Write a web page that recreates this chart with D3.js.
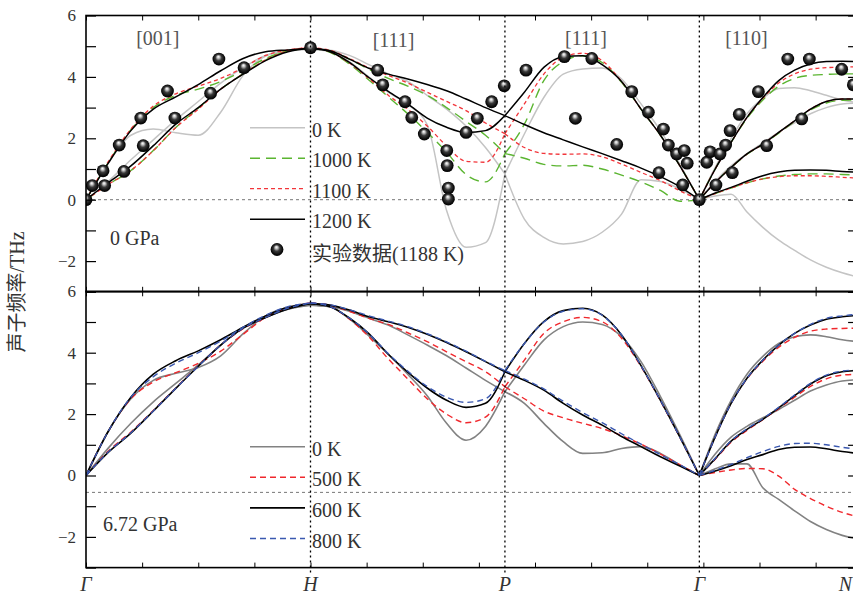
<!DOCTYPE html>
<html>
<head>
<meta charset="utf-8">
<script src="https://cdn.jsdelivr.net/npm/d3@7"></script>
<style>
  body { margin: 0; background: #fff; }
  text { font-family: "Liberation Serif", "Noto Sans CJK SC", serif; fill: #333; }
</style>
</head>
<body>
<script>
// sample points along every path segment (fraction of the segment)
var frac = d3.range(11).map(function(i) { return i / 10; });

// high symmetry path of bcc lattice
var qH = 1, qP = 1 + Math.sqrt(3) / 2, qG2 = 1 + Math.sqrt(3), qN = qG2 + Math.SQRT2 / 2;
var segRange = {GH: [0, qH], HP: [qH, qP], PG: [qP, qG2], GN: [qG2, qN]};
var pointNames = ["Γ", "H", "P", "Γ", "N"];
var pointQ = [0, qH, qP, qG2, qN];

// ---- 0 GPa panel ----
var top0K = {
  GH: [[0, 1.2, 2.1, 2.3, 2.18, 2.1, 2.85, 4.05, 4.68, 4.85, 4.9],
       [0, 0.6, 1.3, 1.95, 2.6, 3.2, 3.8, 4.3, 4.7, 4.85, 4.9]],
  HP: [[4.9, 4.87, 4.7, 4.4, 4.1, 3.85, 3.4, 2.95, 2.4, 1.7, 0.84],
       [4.9, 4.83, 4.5, 4.0, 3.5, 3.1, 2.45, -0.35, -1.55, -1.4, 0.84]],
  PG: [[0.84, 2.14, 3.33, 4.09, 4.26, 4.29, 3.93, 3.12, 2.25, 1.15, 0],
       [0.84, -0.63, -1.23, -1.44, -1.36, -1.06, -0.47, 0.65, 0.59, 0.35, 0]],
  GN: [[0, 1.05, 2.0, 2.8, 3.3, 3.62, 3.65, 3.55, 3.4, 3.25, 3.15],
       [0, 0.6, 1.1, 1.5, 1.85, 2.2, 2.5, 2.8, 3.0, 3.12, 3.15],
       [0, 0.12, 0.18, -0.4, -0.9, -1.32, -1.65, -1.96, -2.2, -2.38, -2.52]]
};
var top1000K = {
  GH: [[0, 1.22, 2.28, 3.0, 3.4, 3.6, 3.85, 4.2, 4.6, 4.85, 4.93],
       [0, 0.5, 0.95, 1.6, 2.35, 2.98, 3.6, 4.1, 4.55, 4.85, 4.93]],
  HP: [[4.93, 4.85, 4.58, 4.25, 3.95, 3.7, 3.4, 3.0, 2.55, 2.1, 1.5],
       [4.93, 4.8, 4.42, 3.9, 3.35, 2.8, 2.2, 1.55, 0.82, 0.58, 1.5]],
  PG: [[1.5, 2.46, 3.88, 4.5, 4.69, 4.47, 3.82, 2.95, 2.1, 1.1, 0],
       [1.5, 1.35, 1.15, 1.1, 1.12, 1.0, 0.8, 0.58, 0.3, -0.05, 0]],
  GN: [[0, 1.0, 1.87, 2.65, 3.25, 3.7, 3.95, 4.05, 4.08, 4.1, 4.1],
       [0, 0.56, 1.05, 1.48, 1.8, 2.17, 2.55, 2.92, 3.15, 3.24, 3.25],
       [0, 0.2, 0.38, 0.55, 0.68, 0.77, 0.82, 0.84, 0.84, 0.82, 0.8]]
};
var top1100K = {
  GH: [[0, 1.25, 2.3, 3.05, 3.45, 3.7, 3.95, 4.3, 4.7, 4.88, 4.95],
       [0, 0.5, 0.95, 1.6, 2.35, 2.95, 3.6, 4.1, 4.55, 4.85, 4.95]],
  HP: [[4.95, 4.87, 4.6, 4.3, 4.05, 3.8, 3.5, 3.2, 2.9, 2.5, 2.15],
       [4.95, 4.82, 4.45, 3.95, 3.4, 2.95, 2.4, 1.75, 1.25, 1.22, 2.15]],
  PG: [[2.15, 3.12, 4.09, 4.64, 4.77, 4.53, 3.85, 2.95, 2.1, 1.1, 0],
       [2.15, 1.7, 1.51, 1.48, 1.49, 1.4, 1.16, 0.89, 0.62, 0.29, 0]],
  GN: [[0, 1.0, 1.87, 2.68, 3.3, 3.8, 4.1, 4.25, 4.3, 4.32, 4.33],
       [0, 0.56, 1.05, 1.49, 1.81, 2.19, 2.57, 2.95, 3.2, 3.28, 3.28],
       [0, 0.2, 0.38, 0.55, 0.68, 0.75, 0.78, 0.78, 0.76, 0.73, 0.7]]
};
var top1200K = {
  GH: [[0, 1.2, 2.25, 2.95, 3.35, 3.75, 4.2, 4.6, 4.82, 4.88, 4.93],
       [0, 0.56, 1.1, 1.76, 2.46, 3.0, 3.6, 4.09, 4.53, 4.82, 4.93]],
  HP: [[4.93, 4.85, 4.58, 4.28, 4.09, 3.93, 3.75, 3.55, 3.28, 3.0, 2.74],
       [4.93, 4.82, 4.47, 3.98, 3.53, 3.12, 2.66, 2.36, 2.19, 2.25, 2.74]],
  PG: [[2.74, 3.5, 4.31, 4.66, 4.69, 4.4, 3.85, 2.95, 2.1, 1.1, 0],
       [2.74, 2.45, 2.18, 1.95, 1.72, 1.5, 1.27, 1.03, 0.75, 0.42, 0]],
  GN: [[0, 1.0, 1.87, 2.68, 3.33, 3.88, 4.22, 4.42, 4.5, 4.51, 4.5],
       [0, 0.56, 1.05, 1.49, 1.81, 2.19, 2.57, 2.95, 3.2, 3.28, 3.28],
       [0, 0.22, 0.4, 0.6, 0.78, 0.9, 0.96, 0.97, 0.96, 0.92, 0.9]]
};

// neutron data at 1188 K (wave vector along path, THz)
var expQ = [0, 0.028, 0.076, 0.083, 0.148, 0.169, 0.244, 0.255, 0.363, 0.396, 0.555, 0.592, 0.704, 1.0,
  1.299, 1.322, 1.421, 1.451, 1.507, 1.607, 1.609, 1.614, 1.614, 1.693, 1.743, 1.807, 1.863,
  1.96, 2.131, 2.18, 2.253, 2.364, 2.431, 2.505, 2.552, 2.572, 2.594, 2.631, 2.658, 2.665, 2.678, 2.732,
  2.765, 2.78, 2.806, 2.824, 2.849, 2.869, 2.879, 2.91, 2.995, 3.032, 3.126, 3.188, 3.222, 3.366, 3.418];
var expF = [0, 0.46, 0.94, 0.46, 1.78, 0.92, 2.66, 1.76, 3.54, 2.66, 3.47, 4.58, 4.3, 4.95,
  4.22, 3.74, 3.19, 2.68, 2.14, 1.6, 1.11, 0.38, 0.02, 2.19, 2.65, 3.19, 3.71,
  4.22, 4.66, 2.65, 4.6, 1.8, 3.52, 2.85, 0.88, 2.3, 1.78, 1.49, 0.48, 1.6, 1.19, 0,
  1.22, 1.56, 0.48, 1.49, 1.78, 2.25, 0.88, 2.78, 3.52, 1.76, 4.58, 2.63, 4.58, 4.25, 3.74];

// ---- 6.72 GPa panel ----
var bot0K = {
  GH: [[0, 1.45, 2.5, 3.1, 3.33, 3.52, 3.9, 4.62, 5.2, 5.47, 5.55],
       [0, 0.9, 1.7, 2.4, 3.0, 3.6, 4.25, 4.8, 5.15, 5.42, 5.55]],
  HP: [[5.55, 5.5, 5.35, 5.12, 4.9, 4.58, 4.25, 3.9, 3.5, 3.1, 2.73],
       [5.55, 5.5, 5.1, 4.55, 3.95, 3.3, 2.6, 1.7, 1.15, 1.6, 2.73]],
  PG: [[2.73, 3.6, 4.41, 4.85, 5.0, 4.92, 4.52, 3.71, 2.57, 1.32, 0],
       [2.73, 2.35, 1.7, 1.1, 0.72, 0.74, 0.88, 0.94, 0.72, 0.34, 0]],
  GN: [[0, 1.35, 2.45, 3.3, 3.88, 4.3, 4.52, 4.58, 4.52, 4.42, 4.36],
       [0, 0.7, 1.25, 1.6, 1.88, 2.15, 2.45, 2.75, 2.95, 3.08, 3.12],
       [0, 0.22, 0.38, 0.38, -0.4, -0.78, -1.15, -1.5, -1.76, -1.95, -2.08]]
};
var bot500K = {
  GH: [[0, 1.45, 2.5, 3.05, 3.35, 3.65, 4.05, 4.6, 5.15, 5.47, 5.62],
       [0, 0.8, 1.42, 2.12, 2.85, 3.57, 4.25, 4.78, 5.15, 5.45, 5.62]],
  HP: [[5.62, 5.55, 5.35, 5.12, 4.92, 4.65, 4.36, 4.03, 3.71, 3.38, 2.89],
       [5.62, 5.5, 5.1, 4.52, 3.8, 3.15, 2.5, 2.0, 1.72, 1.9, 2.89]],
  PG: [[2.89, 3.76, 4.63, 5.01, 5.15, 5.01, 4.47, 3.55, 2.43, 1.24, 0],
       [2.89, 2.5, 2.1, 1.88, 1.7, 1.53, 1.3, 1.02, 0.7, 0.35, 0]],
  GN: [[0, 1.26, 2.35, 3.15, 3.72, 4.18, 4.5, 4.7, 4.77, 4.79, 4.8],
       [0, 0.53, 1.08, 1.47, 1.82, 2.18, 2.55, 2.9, 3.15, 3.27, 3.3],
       [0, 0.1, 0.18, 0.23, 0.22, -0.02, -0.45, -0.75, -1.0, -1.2, -1.35]]
};
var bot600K = {
  GH: [[0, 1.45, 2.55, 3.3, 3.74, 4.06, 4.42, 4.83, 5.2, 5.48, 5.6],
       [0, 0.76, 1.38, 2.1, 2.84, 3.56, 4.25, 4.8, 5.15, 5.42, 5.6]],
  HP: [[5.6, 5.55, 5.39, 5.17, 5.01, 4.83, 4.6, 4.33, 4.03, 3.71, 3.38],
       [5.6, 5.5, 5.13, 4.62, 3.95, 3.37, 2.85, 2.45, 2.22, 2.35, 3.38]],
  PG: [[3.38, 4.3, 5.01, 5.37, 5.45, 5.23, 4.58, 3.58, 2.45, 1.25, 0],
       [3.38, 3.1, 2.78, 2.35, 1.97, 1.64, 1.27, 0.94, 0.61, 0.31, 0]],
  GN: [[0, 1.26, 2.35, 3.17, 3.76, 4.25, 4.63, 4.9, 5.09, 5.17, 5.22],
       [0, 0.55, 1.12, 1.5, 1.83, 2.2, 2.6, 2.98, 3.25, 3.38, 3.42],
       [0, 0.15, 0.32, 0.52, 0.68, 0.85, 0.92, 0.93, 0.87, 0.78, 0.72]]
};
var bot800K = {
  GH: [[0, 1.45, 2.55, 3.22, 3.66, 4.0, 4.38, 4.83, 5.22, 5.5, 5.62],
       [0, 0.77, 1.39, 2.1, 2.84, 3.56, 4.25, 4.8, 5.15, 5.45, 5.62]],
  HP: [[5.62, 5.56, 5.4, 5.2, 5.03, 4.85, 4.62, 4.35, 4.05, 3.72, 3.42],
       [5.62, 5.5, 5.13, 4.62, 3.97, 3.4, 2.9, 2.55, 2.38, 2.5, 3.42]],
  PG: [[3.42, 4.3, 5.0, 5.35, 5.43, 5.22, 4.58, 3.58, 2.45, 1.25, 0],
       [3.42, 3.14, 2.82, 2.42, 2.05, 1.72, 1.36, 1.02, 0.68, 0.35, 0]],
  GN: [[0, 1.26, 2.35, 3.17, 3.76, 4.25, 4.63, 4.92, 5.12, 5.2, 5.25],
       [0, 0.56, 1.13, 1.52, 1.85, 2.22, 2.62, 3.0, 3.27, 3.4, 3.44],
       [0, 0.17, 0.36, 0.58, 0.78, 0.95, 1.04, 1.05, 1.0, 0.92, 0.85]]
};

var yTicks = [-3, -2, -1, 0, 1, 2, 3, 4, 5, 6];
var dirLabels = ["[001]", "[111]", "[111]", "[110]"];
var dirQ = [0.32, 1.37, 2.227, 2.942];

var width = 853, height = 594;
var left = 86, pxPerQ = 224.5;

var x = d3.scaleLinear().domain([0, qN]).range([left, left + qN * pxPerQ]);
var yTop = d3.scaleLinear().domain([-3, 6]).range([291.8, 15.5]);
var yBot = d3.scaleLinear().domain([-3, 6]).range([567.6, 291.3]);

var svg = d3.select("body").append("svg")
    .attr("width", width)
    .attr("height", height);

var defs = svg.append("defs");
var grad = defs.append("radialGradient").attr("id", "ball")
    .attr("cx", "50%").attr("cy", "50%").attr("r", "55%")
    .attr("fx", "45%").attr("fy", "30%");
grad.append("stop").attr("offset", "0%").attr("stop-color", "#ffffff");
grad.append("stop").attr("offset", "18%").attr("stop-color", "#c8c8c8");
grad.append("stop").attr("offset", "45%").attr("stop-color", "#3a3a3a");
grad.append("stop").attr("offset", "80%").attr("stop-color", "#0a0a0a");
grad.append("stop").attr("offset", "100%").attr("stop-color", "#000");

[["clipTop", yTop], ["clipBot", yBot]].forEach(function(c) {
  defs.append("clipPath").attr("id", c[0]).append("rect")
      .attr("x", x(0)).attr("y", c[1](6))
      .attr("width", x(qN) - x(0)).attr("height", c[1](-3) - c[1](6));
});

function drawSeries(g, y, series, style) {
  var line = d3.line()
      .x(function(d) { return x(d[0]); })
      .y(function(d) { return y(d[1]); })
      .curve(d3.curveMonotoneX);
  Object.keys(series).forEach(function(seg) {
    var r = segRange[seg];
    series[seg].forEach(function(vals) {
      var pts = vals.map(function(v, i) { return [r[0] + frac[i] * (r[1] - r[0]), v]; });
      g.append("path")
          .attr("d", line(pts))
          .attr("fill", "none")
          .attr("stroke", style.color)
          .attr("stroke-width", style.w)
          .attr("stroke-dasharray", style.dash);
    });
  });
}

function drawFrame(y) {
  var g = svg.append("g");
  // frequency ticks, inward on both sides
  g.append("g").attr("transform", "translate(" + x(0) + ",0)")
      .call(d3.axisLeft(y).tickValues(yTicks).tickSizeInner(-10).tickSizeOuter(0).tickPadding(10)
        .tickFormat(function(d) { return d % 2 === 0 && d > -3 ? d3.format("d")(d) : ""; }))
      .call(function(a) {
        a.select(".domain").remove();
        a.selectAll("line").attr("stroke", "#000").attr("stroke-width", 1.2);
        a.selectAll("text").attr("font-size", 17).attr("fill", "#333")
          .style("font-family", "'Liberation Serif', serif");
      });
  g.append("g").attr("transform", "translate(" + x(qN) + ",0)")
      .call(d3.axisLeft(y).tickValues(yTicks).tickSize(10).tickFormat(""))
      .call(function(a) { a.select(".domain").remove(); a.selectAll("line").attr("stroke", "#000").attr("stroke-width", 1.2); });
  var qt = d3.range(0, qN, 0.25);
  g.append("g").attr("transform", "translate(0," + y(6) + ")")
      .call(d3.axisBottom(x).tickValues(qt).tickSize(5).tickFormat(""))
      .call(function(a) { a.select(".domain").remove(); a.selectAll("line").attr("stroke", "#000"); });
  g.append("g").attr("transform", "translate(0," + y(-3) + ")")
      .call(d3.axisTop(x).tickValues(qt).tickSize(5).tickFormat(""))
      .call(function(a) { a.select(".domain").remove(); a.selectAll("line").attr("stroke", "#000"); });
  g.append("rect")
      .attr("x", x(0)).attr("y", y(6))
      .attr("width", x(qN) - x(0)).attr("height", y(-3) - y(6))
      .attr("fill", "none").attr("stroke", "#000").attr("stroke-width", 1.6);
}

// ---- top panel ----
var gTop = svg.append("g").attr("clip-path", "url(#clipTop)");
gTop.append("line")
    .attr("x1", x(0)).attr("x2", x(qN)).attr("y1", yTop(0)).attr("y2", yTop(0))
    .attr("stroke", "#777").attr("stroke-width", 1).attr("stroke-dasharray", "3,3");

var topStyles = [
  {data: top0K, color: "#c4c4c4", w: 1.5, dash: null, name: "0 K"},
  {data: top1000K, color: "#5bb531", w: 1.4, dash: "10,6", name: "1000 K"},
  {data: top1100K, color: "#f2353a", w: 1.3, dash: "4,3", name: "1100 K"},
  {data: top1200K, color: "#000", w: 1.5, dash: null, name: "1200 K"}
];
topStyles.forEach(function(s) { drawSeries(gTop, yTop, s.data, s); });

// ---- bottom panel ----
var gBot = svg.append("g").attr("clip-path", "url(#clipBot)");
gBot.append("line")
    .attr("x1", x(0)).attr("x2", x(qN)).attr("y1", yBot(-0.55)).attr("y2", yBot(-0.55))
    .attr("stroke", "#777").attr("stroke-width", 1).attr("stroke-dasharray", "3,3");

var botStyles = [
  {data: bot0K, color: "#828282", w: 1.6, dash: null, name: "0 K"},
  {data: bot500K, color: "#f0282d", w: 1.4, dash: "6,4", name: "500 K"},
  {data: bot600K, color: "#000", w: 1.6, dash: null, name: "600 K"},
  {data: bot800K, color: "#3a58b0", w: 1.4, dash: "6,4", name: "800 K"}
];
botStyles.forEach(function(s) { drawSeries(gBot, yBot, s.data, s); });

// dotted verticals at H, P, Gamma
svg.selectAll(".vline").data(pointQ.slice(1, 4)).enter().append("line")
    .attr("x1", function(d) { return x(d); }).attr("x2", function(d) { return x(d); })
    .attr("y1", yTop(6)).attr("y2", yBot(-3) + 5)
    .attr("stroke", "#000").attr("stroke-width", 1.3).attr("stroke-dasharray", "2,3");

// experimental points
gTop.selectAll(".exp").data(expQ).enter().append("circle")
    .attr("cx", function(d) { return x(d); })
    .attr("cy", function(d, i) { return yTop(expF[i]); })
    .attr("r", 6.4)
    .attr("fill", "url(#ball)");

drawFrame(yTop);
drawFrame(yBot);

// legends
function legend(styles, y0, step) {
  styles.forEach(function(s, i) {
    var yy = y0 + i * step;
    svg.append("line").attr("x1", 250).attr("x2", 305).attr("y1", yy).attr("y2", yy)
        .attr("stroke", s.color).attr("stroke-width", s.w).attr("stroke-dasharray", s.dash);
    svg.append("text").attr("x", 312).attr("y", yy + 9).attr("font-size", 20).text(s.name);
  });
}
legend(topStyles, 127.7, 30.5);
svg.append("circle").attr("cx", 277).attr("cy", 249.5).attr("r", 6.4).attr("fill", "url(#ball)");
svg.append("text").attr("x", 312).attr("y", 261).attr("font-size", 20).text("实验数据(1188 K)");
legend(botStyles, 446.7, 30.6);

svg.append("text").attr("x", 110).attr("y", 245).attr("font-size", 20).text("0 GPa");
svg.append("text").attr("x", 103).attr("y", 531).attr("font-size", 20).text("6.72 GPa");

// direction labels
svg.selectAll(".dir").data(dirLabels).enter().append("text")
    .attr("x", function(d, i) { return x(dirQ[i]); })
    .attr("y", function(d, i) { return i === 1 ? 47 : 45; })
    .attr("text-anchor", "middle").attr("font-size", 20)
    .style("fill", "#555")
    .text(function(d) { return d; });

// high symmetry point labels (N sits on the cropped right edge)
svg.selectAll(".pt").data(pointNames).enter().append("text")
    .attr("x", function(d, i) { return i === 4 ? width - 1 : x(pointQ[i]); })
    .attr("y", 591)
    .attr("text-anchor", function(d, i) { return i === 4 ? "end" : "middle"; })
    .attr("font-size", 20).attr("font-style", "italic")
    .text(function(d) { return d; });

svg.append("text")
    .attr("transform", "translate(24," + 292 + ") rotate(-90)")
    .attr("text-anchor", "middle").attr("font-size", 20)
    .text("声子频率/THz");
</script>
</body>
</html>
